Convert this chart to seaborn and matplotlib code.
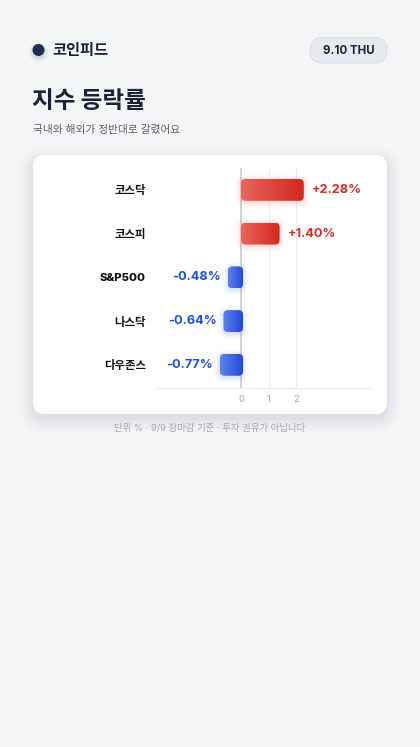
import numpy as np
import pandas as pd
import matplotlib
matplotlib.use("Agg")
import matplotlib.pyplot as plt
from matplotlib.patches import FancyBboxPatch, Circle
from matplotlib.colors import LinearSegmentedColormap
import seaborn as sns

# ---- data ----
categories = ["코스닥", "코스피", "S&P500", "나스닥", "다우존스"]
changes = [2.28, 1.40, -0.48, -0.64, -0.77]
x_ticks = [0, 1, 2]
title = "지수 등락률"
subtitle = "국내와 해외가 정반대로 갈렸어요"
brand = "코인피드"
date_label = "9.10 THU"
footer = "단위 % · 9/9 장마감 기준 · 투자 권유가 아닙니다"

sns.set_theme(style="white")
FAM = ["Inter", "Noto Sans CJK KR", "DejaVu Sans"]
plt.rcParams["font.family"] = FAM

W, H = 420, 747
fig = plt.figure(figsize=(W / 100, H / 100), dpi=100)
fig.patch.set_facecolor("#f4f5f7")

# background axes in pixel coordinates
bg = fig.add_axes([0, 0, 1, 1], zorder=0)
bg.set_xlim(0, W)
bg.set_ylim(H, 0)
bg.axis("off")

# card shadow + card
for i, a in enumerate([0.018, 0.016, 0.014, 0.012, 0.010, 0.008]):
    p = 1 + i * 2.5
    bg.add_patch(FancyBboxPatch((33 - p, 155 - p + 5), 354 + 2 * p, 259 + 2 * p,
                                boxstyle=f"round,pad=0,rounding_size={12 + p}",
                                facecolor="#1c2540", edgecolor="none", alpha=a))
bg.add_patch(FancyBboxPatch((33, 155), 354, 259, boxstyle="round,pad=0,rounding_size=12",
                            facecolor="white", edgecolor="none"))

# header
for i, a in enumerate([0.06, 0.05, 0.04]):
    bg.add_patch(Circle((38.5, 52), 6.5 + i * 1.5, facecolor="#1e2f55", edgecolor="none", alpha=a))
bg.add_patch(Circle((38.5, 50), 6, facecolor="#1f2f55", edgecolor="none"))
bg.text(52, 50, brand, fontsize=11, fontweight="heavy", color="#18213a",
        va="center", ha="left", family=FAM)
bg.add_patch(FancyBboxPatch((310, 37.5), 77, 25.5, boxstyle="round,pad=0,rounding_size=12.7",
                            facecolor="#e6e9ee", edgecolor="#d9dde3", linewidth=0.7))
bg.text(348.5, 50.5, date_label, fontsize=8.3, fontweight="bold", color="#1c2438",
        va="center", ha="center", family=FAM)

bg.text(32, 102, title, fontsize=17, fontweight="heavy", color="#1a2238",
        va="center", ha="left", family=FAM)
bg.text(33, 129.5, subtitle, fontsize=7.7, color="#5a606b",
        va="center", ha="left", family=FAM)
bg.text(210, 428.5, footer, fontsize=6.8, color="#a3a8b1",
        va="center", ha="center", family=FAM)

# chart axes
L, R, T, B = 155, 372, 168, 388
ax = fig.add_axes([L / W, 1 - B / H, (R - L) / W, (B - T) / H], zorder=2)
ax.patch.set_alpha(0)

df = pd.DataFrame({"index": categories, "change": changes})
sns.barplot(data=df, x="change", y="index", orient="h", width=0.5,
            color="#d93025", ax=ax, saturation=1)

xlim = (-3.13, 4.76)
ylim = (4.53, -0.5)
ax.set_xlim(*xlim)
ax.set_ylim(*ylim)

px_x = (R - L) / (xlim[1] - xlim[0])
px_y = (B - T) / (ylim[0] - ylim[1])
asp = px_x / px_y

red_cmap = LinearSegmentedColormap.from_list("r", ["#e6665f", "#d4281d"])
blue_cmap = LinearSegmentedColormap.from_list("b", ["#5e84ea", "#2247d6"])
grad = np.linspace(0, 1, 64).reshape(1, -1)

bars = list(ax.patches)
for bar, val in zip(bars, changes):
    x0, y0, w, h = bar.get_x(), bar.get_y(), bar.get_width(), bar.get_height()
    bar.remove()
    xa, xb = min(x0, x0 + w), max(x0, x0 + w)
    ya, yb = min(y0, y0 + h), max(y0, y0 + h)
    pos = val >= 0
    if not pos:
        xb = xb + 2 / px_x  # bar cap slightly overlaps the zero line
    glow = "#ef7d74" if pos else "#7d9af0"
    r = 4.5 / px_x
    for i, a in enumerate([0.10, 0.07, 0.05, 0.03]):
        p = (1.0 + i * 1.6) / px_x
        ax.add_patch(FancyBboxPatch((xa, ya + 1.5 / px_y), xb - xa, yb - ya,
                                    boxstyle=f"round,pad={p},rounding_size={r + p}",
                                    mutation_aspect=asp, facecolor=glow,
                                    edgecolor="none", alpha=a, zorder=3))
    clip = FancyBboxPatch((xa, ya), xb - xa, yb - ya,
                          boxstyle=f"round,pad=0,rounding_size={r}",
                          mutation_aspect=asp, facecolor="none", edgecolor="none", zorder=4)
    ax.add_patch(clip)
    im = ax.imshow(grad, cmap=red_cmap if pos else blue_cmap, aspect="auto",
                   extent=[xa, xb, yb, ya], zorder=4, interpolation="bilinear")
    im.set_clip_path(clip)
    lab = f"{val:+.2f}%"
    if pos:
        ax.text(xb + 8 / px_x, (ya + yb) / 2, lab, color="#d92b22", fontsize=9.2,
                fontweight="bold", va="center", ha="left", zorder=5, family=FAM)
    else:
        ax.text(xa - 7 / px_x, (ya + yb) / 2, lab, color="#1f4fd8", fontsize=9.2,
                fontweight="bold", va="center", ha="right", zorder=5, family=FAM)

ax.set_xlim(*xlim)
ax.set_ylim(*ylim)

# grid and axes styling
for t in x_ticks[1:]:
    ax.axvline(t, color="#eceef2", linewidth=0.9, zorder=1)
ax.axvline(0, color="#c5c9d0", linewidth=1.1, zorder=2)
for s in ["top", "right", "left"]:
    ax.spines[s].set_visible(False)
ax.spines["bottom"].set_color("#eceef1")
ax.spines["bottom"].set_linewidth(0.9)
ax.set_xticks(x_ticks)
ax.set_xticklabels([str(t) for t in x_ticks])
ax.tick_params(axis="x", length=0, pad=5, labelsize=6.8, labelcolor="#a3a8b1")
ax.tick_params(axis="y", length=0, pad=6.5, labelsize=8.2, labelcolor="#111111")
for lbl in ax.get_yticklabels():
    lbl.set_fontweight("heavy")
    lbl.set_family(FAM)
ax.set_xlabel("")
ax.set_ylabel("")
ax.grid(False)

fig.savefig("out.png", dpi=100, facecolor=fig.get_facecolor())
